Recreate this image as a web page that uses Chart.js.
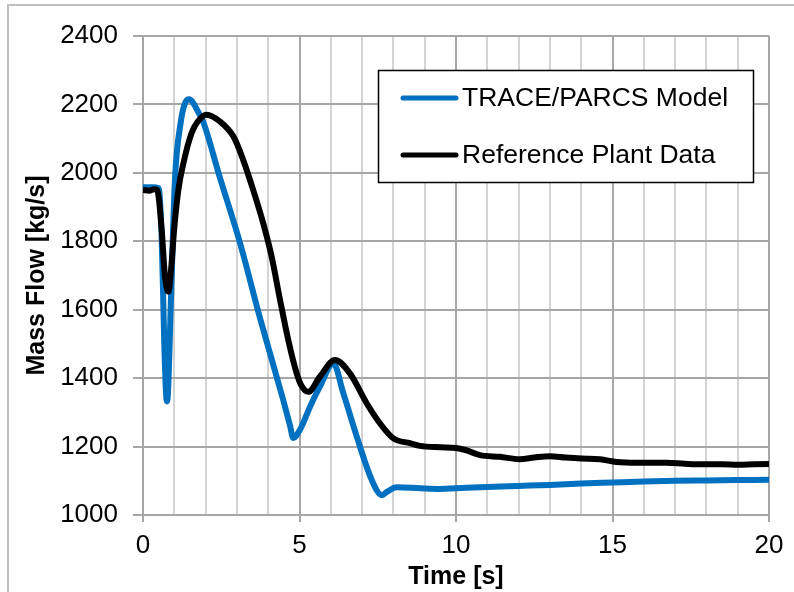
<!DOCTYPE html>
<html>
<head>
<meta charset="utf-8">
<script src="https://cdn.jsdelivr.net/npm/chart.js@4.4.1/dist/chart.umd.min.js"></script>
<style>
  html, body { margin: 0; padding: 0; background: #fff; }
  canvas { display: block; }
</style>
</head>
<body>
<canvas id="flowChart" width="794" height="592"></canvas>
<script>
const seriesNames = ["TRACE/PARCS Model", "Reference Plant Data"];
const seriesColors = ["#0070C0", "#000000"];

const traceTime = [0, 0.3, 0.5, 0.6, 0.68, 0.74, 0.77, 0.8, 0.9, 1.02, 1.2, 1.35, 1.48, 1.6, 1.75, 1.92, 2.46, 3.1, 3.74, 4.48, 4.7, 4.8, 5.02, 5.34, 5.65, 6.08, 6.4, 6.83, 7.31, 7.63, 7.8, 8.1, 8.85, 9.5, 10, 11, 12, 13, 14, 15, 16, 17, 18, 19, 20];
const traceFlow = [1958, 1958, 1955, 1800, 1500, 1350, 1332, 1360, 1650, 1979, 2145, 2205, 2215, 2205, 2180, 2150, 1985, 1795, 1575, 1336, 1260, 1225, 1250, 1317, 1375, 1443, 1356, 1229, 1102, 1058, 1068, 1081, 1078, 1076, 1078, 1082, 1085, 1088, 1092, 1095, 1098, 1100, 1101, 1102, 1103];

const plantTime = [0, 0.2, 0.35, 0.45, 0.5, 0.6, 0.7, 0.81, 0.9, 1.0, 1.13, 1.29, 1.55, 1.75, 2.03, 2.46, 2.89, 3.2, 3.52, 3.84, 4.11, 4.38, 4.64, 4.91, 5.05, 5.28, 5.65, 6.13, 6.61, 7.15, 7.57, 8.0, 8.53, 8.85, 9.5, 10.0, 10.3, 10.77, 11.4, 12.04, 12.5, 13.0, 13.5, 14.0, 14.6, 15.13, 15.8, 16.73, 17.3, 17.8, 18.5, 19.0, 19.5, 20];
const plantFlow = [1950, 1948, 1952, 1950, 1930, 1830, 1700, 1653, 1720, 1840, 1950, 2028, 2116, 2150, 2170, 2150, 2106, 2038, 1950, 1853, 1755, 1628, 1512, 1414, 1380, 1360, 1404, 1453, 1414, 1326, 1268, 1224, 1210, 1202, 1198, 1196, 1190, 1175, 1170, 1163, 1168, 1172, 1168, 1165, 1163, 1155, 1153, 1153, 1150, 1148, 1148, 1147, 1148, 1149];

const xTicks = [0, 5, 10, 15, 20];
const yTicks = [1000, 1200, 1400, 1600, 1800, 2000, 2200, 2400];

const toPoints = (xs, ys) => xs.map((x, i) => ({ x, y: ys[i] }));

const fontFamily = "'Liberation Sans', Arial, sans-serif";

// light outer frame of the original figure
const framePlugin = {
  id: "frame",
  beforeDraw(chart) {
    const ctx = chart.ctx;
    ctx.save();
    ctx.strokeStyle = "#c0c0c0";
    ctx.lineWidth = 2;
    ctx.beginPath();
    ctx.moveTo(8, 592);
    ctx.lineTo(8, 5);
    ctx.lineTo(794, 5);
    ctx.stroke();
    ctx.restore();
  },
};

// boxed legend inside the plot
const boxLegend = {
  id: "boxLegend",
  afterDraw(chart) {
    const ctx = chart.ctx;
    ctx.save();
    ctx.fillStyle = "#fff";
    ctx.fillRect(378, 70, 375, 112);
    ctx.strokeStyle = "#000";
    ctx.lineWidth = 1.5;
    ctx.strokeRect(378.5, 70.5, 375, 112);
    const rows = [98, 155];
    chart.data.datasets.forEach((ds, i) => {
      const y = rows[i];
      ctx.strokeStyle = ds.borderColor;
      ctx.lineWidth = 5;
      ctx.lineCap = "round";
      ctx.beginPath();
      ctx.moveTo(403, y);
      ctx.lineTo(456, y);
      ctx.stroke();
      ctx.fillStyle = "#000";
      ctx.font = "26.5px " + fontFamily;
      ctx.textBaseline = "middle";
      ctx.textAlign = "left";
      ctx.fillText(ds.label, 462, y + 1);
    });
    ctx.restore();
  },
};

new Chart(document.getElementById("flowChart"), {
  type: "line",
  data: {
    datasets: [
      {
        label: seriesNames[0],
        data: toPoints(traceTime, traceFlow),
        borderColor: seriesColors[0],
        borderWidth: 6,
        pointRadius: 0,
        cubicInterpolationMode: "monotone",
        order: 1,
      },
      {
        label: seriesNames[1],
        data: toPoints(plantTime, plantFlow),
        borderColor: seriesColors[1],
        borderWidth: 6,
        pointRadius: 0,
        cubicInterpolationMode: "monotone",
        order: 0,
      },
    ],
  },
  options: {
    responsive: false,
    animation: false,
    layout: { padding: { left: 0, right: 25, top: 36, bottom: 0 } },
    plugins: {
      legend: { display: false },
      tooltip: { enabled: false },
    },
    scales: {
      x: {
        type: "linear",
        min: 0,
        max: 20,
        afterFit: (scale) => { scale.height = 77; },
        afterBuildTicks: (scale) => {
          scale.ticks = Array.from({ length: 21 }, (_, i) => ({ value: i }));
        },
        ticks: {
          autoSkip: false,
          maxRotation: 0,
          padding: 8,
          color: "#000",
          font: { family: fontFamily, size: 26 },
          callback: (v) => (xTicks.includes(v) ? String(v) : ""),
        },
        grid: {
          color: (c) => (c.tick && c.tick.value % 5 === 0 ? "#a6a6a6" : "#d4d4d4"),
          tickColor: (c) => (c.tick && c.tick.value % 5 === 0 ? "#a6a6a6" : "rgba(0,0,0,0)"),
          lineWidth: 2,
          tickLength: 7,
        },
        border: { color: "#a6a6a6", width: 2 },
        title: {
          display: true,
          text: "Time [s]",
          color: "#000",
          font: { family: fontFamily, size: 25, weight: "bold" },
          padding: 0,
        },
      },
      y: {
        min: 1000,
        max: 2400,
        afterFit: (scale) => { scale.width = 143; },
        afterBuildTicks: (scale) => {
          scale.ticks = yTicks.map((v) => ({ value: v }));
        },
        ticks: {
          padding: 15,
          color: "#000",
          font: { family: fontFamily, size: 26 },
          callback: (v) => String(v),
        },
        grid: {
          color: "#a6a6a6",
          lineWidth: 2,
          tickLength: 10,
        },
        border: { color: "#a6a6a6", width: 2 },
        title: {
          display: true,
          text: "Mass Flow [kg/s]",
          color: "#000",
          font: { family: fontFamily, size: 25, weight: "bold" },
          padding: 22,
        },
      },
    },
  },
  plugins: [framePlugin, boxLegend],
});
</script>
</body>
</html>
